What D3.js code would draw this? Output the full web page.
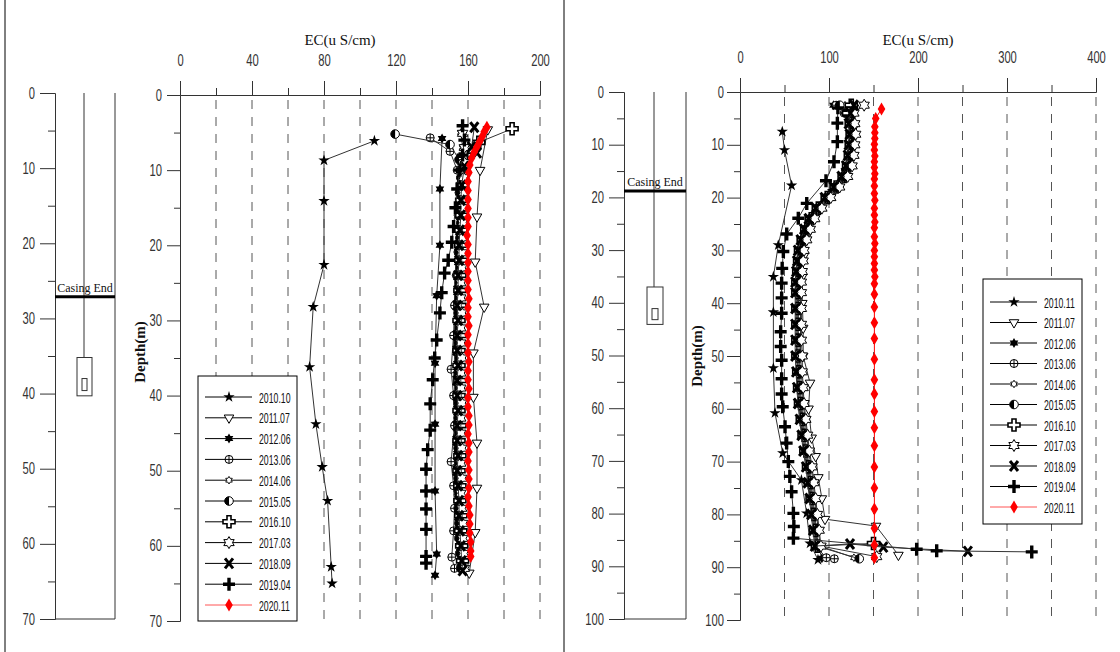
<!DOCTYPE html>
<html><head><meta charset="utf-8">
<script src="https://cdn.jsdelivr.net/npm/d3@7"></script>
<style>body{margin:0;background:#fff}svg{display:block}</style>
</head><body><svg id="c" width="1120" height="652"></svg>
<script>
// ---------------- DATA ----------------
const namesL = ["2010.10","2011.07","2012.06","2013.06","2014.06","2015.05","2016.10","2017.03","2018.09","2019.04","2020.11"];
const namesR = ["2010.11","2011.07","2012.06","2013.06","2014.06","2015.05","2016.10","2017.03","2018.09","2019.04","2020.11"];
const xTicksL = [0,40,80,120,160,200];
const yTicksL = [0,10,20,30,40,50,60,70];
const xTicksR = [0,100,200,300,400];
const yTicksR = [0,10,20,30,40,50,60,70,80,90,100];

// Left well [depth, EC]
const L2010_10 = [[6.1,108],[8.7,80],[14.1,80],[22.6,80],[28.2,74],[36.2,72],[43.8,75.5],[49.5,79],[54,82],[62.8,84],[65,84.5]];
const L2011_07 = [[4.6,171],[10,166.7],[16.2,165],[22.2,164],[28.2,169],[34.3,163],[40.2,163],[46.3,165],[52.3,165],[58.2,164],[63.6,160.7]];
const L2012_06 = [[5.8,145.6],[12.5,144.4],[20,144.4],[26.7,142.6],[35.7,141.7],[43.8,141.7],[52.7,141.7],[61.1,142.6],[63.9,141.7]];
const L2013_06 = [[5.7,139],[7.5,150],[10,154],[13,155],[16,154.5],[20.9,154.4],[24,153.5],[28,152.5],[32,152],[36.5,150.6],[40,152],[44,152.5],[48.8,150.6],[52,152],[55,152.5],[58,152],[61.5,151],[63,152.5]];
const L2014_06 = [[5,156],[7,157],[9,156],[11,156.5],[13,156],[15,155.5],[17,156],[19,155.5],[21,155],[23,155],[25,154.5],[27,154.5],[29,155],[31,154.5],[33,154],[35,154.5],[37,154],[39,154.5],[41,154],[43,154.5],[45,154],[47,154.5],[49,154],[51,154.5],[53,154],[55,154.5],[57,155],[59,154.5],[61,155],[63,155.5]];
const L2015_05 = [[5.2,119.5],[6.6,150],[8.6,155],[11,156],[13,156],[15,155.5],[17,156],[19,155.5],[21,155],[23,155.5],[25,155],[27,155],[29,154.5],[31,155],[33,154.5],[35,155],[37,154.5],[39,155],[41,154.5],[43,154.5],[45,155],[47,154.5],[49,155],[51,154.5],[53,155],[55,154.5],[57,155],[59,155],[61,155.5],[63,156]];
const L2016_10 = [[4.5,184.5],[6.3,166],[8,158.5],[10,157],[12,157],[14,156.5],[16,156.5],[18,156],[20,156],[22,156],[24,155.5],[26,155.5],[28,155.5],[30,155],[32,155.5],[34,155],[36,155],[38,155.5],[40,155],[42,155],[44,155.5],[46,155],[48,155.5],[50,155],[52,155.5],[54,155.5],[56,156],[58,156],[60,156.5],[62,157]];
const L2017_03 = [[5.1,157],[7,158],[9,158],[11,157.5],[13,157.5],[15,157],[17,157],[19,157],[21,156.5],[23,156.5],[25,156],[27,156],[29,156.5],[31,156],[33,156],[35,156.5],[37,156],[39,156],[41,156.5],[43,156],[45,156],[47,156.5],[49,156],[51,156.5],[53,156],[55,156.5],[57,157],[59,157],[61,157.5],[63,158]];
const L2018_09 = [[4.3,163.5],[6.9,162],[7.7,165],[9.5,158],[12,156.5],[14,156],[16,156],[18,155.5],[20,155],[22,155],[24,154.5],[26,154.5],[28,154],[30,154.5],[32,154],[34,154],[36,154.5],[38,154],[40,154],[42,154.5],[44,154],[46,154],[48,154.5],[50,154],[52,154.5],[54,155],[56,155],[58,155.5],[60,156],[62,156.5],[63.3,157]];
const L2019_04 = [[4.1,157],[6,158],[8,157],[10,155.5],[12.5,154],[15,153],[17.5,152],[19.6,151],[22,149],[23.7,147],[26.3,145.4],[29,144.4],[32.6,142.6],[35,141.5],[37.9,140.4],[41.1,139],[44.6,139],[47.2,137.6],[49.8,136.7],[52.7,136.7],[55.1,136.7],[57.8,136.7],[61.4,136.7],[62.3,136.7]];
const depthRedL = [4.3,4.9,5.5,6.2,6.9,7.6,8.4,9.3,10.3,11.5,12.7,13.9,15.1,16.3,17.5,18.7,19.9,21.1,22.3,23.5,24.7,25.9,27.1,28.3,29.5,30.7,31.9,33.1,34.3,35.5,36.7,37.9,39.1,40.3,41.5,42.7,43.9,45.1,46.3,47.5,48.7,49.9,51.1,52.3,53.5,54.7,55.9,57.1,58.3,59.5,60.7,61.4];
const ecRedL = [170.5,169,168,166.5,165,163.5,162,161,160.5,160,160,160,160,160,160,159.5,160,160,160,160,160,160,160.5,160,160,160.5,160,160,160,160.5,160,160,160.5,160,160,160.5,160.5,160,160.5,160.5,160,160.5,160.5,160.5,160,160.5,161,161,161,161.5,161.5,161.5];

// Right well
const R2010_11 = [[7.5,47.5],[11,50],[17.7,58],[29,43],[35,37.5],[41.7,37.5],[52.3,37.5],[60.8,39.3],[68.4,48],[73.5,69],[79.8,74.9],[85.5,78.7],[88.6,87.6]];
const R2011_07 = [[3,128],[7,127],[11,124],[15,119],[19,104],[23,86],[27,76],[31,72],[35,70],[40,70],[44.7,71],[50,71],[55.1,78.7],[60,77],[65.5,80.5],[69,85],[73,88],[77,92],[80.9,95.5],[82.2,152.8],[87.7,178]];
const depthR = [2.5,4,6,8,10,12,14,16,18,20,22,24,26,28,30,32,34,36,38,41,44,47,50,53,56,59,62,65,68,71,74,77,80,83,86];
const ecR_2012_06 = [105,121,126,127,126,125,123,118,109,99,89,81,76,72,69,68,67,66,66,66,65,66,67,67,68,69,71,73,75,78,80,82,84,86,88];
const ecR_2013_06 = [108,117,123,124,123,122,120,115,106,96,86,78,73,69,66,65,64,63,63,63,63,63,64,64,65,66,68,70,72,75,77,79,81,83,85];
const ecR_2014_06 = [118,123,128,129,128,127,125,120,111,101,91,83,78,74,71,70,69,68,68,68,68,68,68,69,70,71,73,75,77,80,82,84,86,88,90];
const ecR_2015_05 = [112,119,124,125,124,123,121,116,107,97,87,79,74,70,67,66,65,64,64,64,64,64,64,65,66,67,69,71,73,76,78,80,82,84,86];
const ecR_2016_10 = [125,122,125,126,125,124,122,117,108,98,88,80,75,71,68,67,66,65,65,65,65,65,65,66,67,68,70,72,74,77,79,81,83,85,87];
const ecR_2017_03 = [139.5,128,129,130,129,128,126,121,112,102,92,84,79,75,72,71,70,69,69,69,69,69,70,70,71,72,74,76,78,81,83,85,87,89,91];
const ecR_2018_09 = [128,124,122,123,122,121,119,114,105,95,85,77,72,68,65,64,63,62,62,62,62,62,62,63,64,65,67,69,71,74,76,78,80,82,84];
const tailR_2012_06 = [[88.3,92]];
const tailR_2013_06 = [[88.2,97],[88.4,106]];
const tailR_2014_06 = [[88.2,128]];
const tailR_2015_05 = [[88.4,134]];
const tailR_2016_10 = [[85.5,150]];
const tailR_2017_03 = [[88,153.6]];
const tailR_2018_09 = [[85.6,123.6],[86.2,161],[87,256]];
const R2019_04 = [[3,110],[5.9,109.4],[9.4,109.4],[13.2,105.6],[16.8,96.6],[21.1,75],[23.9,65.5],[26.9,52.5],[30.2,48.7],[33.4,47.4],[36.2,46.8],[39,46.8],[41.9,46.8],[45.4,45.7],[48.2,45.7],[50.8,46.8],[54.3,46.8],[57.2,46.8],[59.6,48],[63.4,50.6],[66.5,52.4],[70,54.3],[72.8,56],[75.7,58],[79.8,60],[82.3,60.5],[84.5,60],[86.6,198.5],[86.9,221],[87.1,327.8]];
const depthRedR = [3.2,5.0,6.6,7.7,8.8,9.9,11.0,12.1,13.2,14.3,15.5,16.5,17.8,19.2,20.5,22.0,23.3,24.6,25.7,27.4,28.7,30.0,31.2,32.5,33.7,35.0,36.3,38.3,40.7,43.7,46.7,50.6,54.5,57.2,60.5,63.6,67,71,75,79,82.6,85.8,88.2];
const ecRedR = [159,152.5,151.5,151.5,151.5,151,151,151.5,151,151,151.5,151,151,151,151.5,151,151,151.5,151,151,151.5,151,151,151,151,151.5,151,151,151,151,151,151,151,151,151,151,151,151,151,151,151,151,151];

// Well schematics (depths)
const wellL = {casing:27.1, boxTop:35.2, boxBot:40.3, innerTop:38.0, innerBot:39.6, bottom:70};
const wellR = {casing:18.8, boxTop:37.0, boxBot:44.1, innerTop:41.1, innerBot:43.2, bottom:100};

// ---------------- DRAW ----------------
const zip = (d,e) => d.map((v,i)=>[v,e[i]]).filter(p=>p[1]!=null);
const markers = ["star5","triDown","star6f","circCross","star6s","halfCirc","crossOpen","star6o","xThick","plusThick","diamond"];
const seriesL = [L2010_10,L2011_07,L2012_06,L2013_06,L2014_06,L2015_05,L2016_10,L2017_03,L2018_09,L2019_04,zip(depthRedL,ecRedL)];
const seriesR = [R2010_11,R2011_07,
  zip(depthR,ecR_2012_06).concat(tailR_2012_06),
  zip(depthR,ecR_2013_06).concat(tailR_2013_06),
  zip(depthR,ecR_2014_06).concat(tailR_2014_06),
  zip(depthR,ecR_2015_05).concat(tailR_2015_05),
  zip(depthR,ecR_2016_10).concat(tailR_2016_10),
  zip(depthR,ecR_2017_03).concat(tailR_2017_03),
  zip(depthR,ecR_2018_09).concat(tailR_2018_09),
  R2019_04, zip(depthRedR,ecRedR)];

const svg = d3.select("#c");
const SANS = "'Liberation Sans',Arial,sans-serif";
const SERIF = "'Liberation Serif','Times New Roman',serif";

function hexagram(r){
  const p=[];
  for(let i=0;i<12;i++){const a=-Math.PI/2+i*Math.PI/6, rr=i%2===0?r:r*0.58; p.push([(rr*Math.cos(a)).toFixed(2),(rr*Math.sin(a)).toFixed(2)]);}
  return "M"+p.map(q=>q.join(",")).join("L")+"Z";
}
function marker(g,type,x,y){
  const m=g.append("g").attr("transform",`translate(${x},${y})`);
  switch(type){
    case "star5": m.append("path").attr("d",d3.symbol(d3.symbolStar,40)()).attr("fill","#000"); break;
    case "triDown": m.append("path").attr("d",d3.symbol(d3.symbolTriangle,40)()).attr("transform","rotate(180)").attr("fill","#fff").attr("stroke","#000").attr("stroke-width",1); break;
    case "star6f": m.append("path").attr("d",hexagram(5)).attr("fill","#000"); break;
    case "circCross":
      m.append("circle").attr("r",4).attr("fill","#fff").attr("stroke","#000");
      m.append("path").attr("d","M-4,0H4M0,-4V4").attr("stroke","#000"); break;
    case "star6s": m.append("path").attr("d",hexagram(3.8)).attr("fill","#fff").attr("stroke","#000").attr("stroke-width",0.9); break;
    case "halfCirc":
      m.append("circle").attr("r",4.3).attr("fill","#fff").attr("stroke","#000");
      m.append("path").attr("d","M0,-4.3A4.3,4.3 0 0 0 0,4.3Z").attr("fill","#000"); break;
    case "crossOpen":
      m.append("path").attr("d","M-2,-6H2V-2H6V2H2V6H-2V2H-6V-2H-2Z").attr("fill","#fff").attr("stroke","#000").attr("stroke-width",1.6); break;
    case "star6o": m.append("path").attr("d",hexagram(6)).attr("fill","#fff").attr("stroke","#000").attr("stroke-width",1); break;
    case "xThick": m.append("path").attr("d","M-4,-5L4,5M-4,5L4,-5").attr("stroke","#000").attr("stroke-width",3); break;
    case "plusThick": m.append("path").attr("d","M-6,0H6M0,-6.5V6.5").attr("stroke","#000").attr("stroke-width",3.4); break;
    case "diamond": m.append("path").attr("d","M0,-6.5L3.8,0L0,6.5L-3.8,0Z").attr("fill","#f00"); break;
  }
}

function styleAxis(g,size){
  g.selectAll("text").attr("font-family",SANS).attr("font-size",size).attr("fill","#333").classed("narrow",true);
  g.selectAll("line,path").attr("stroke","#333");
}

function panel(c){
  const g=svg.append("g");
  const x=d3.scaleLinear().domain(c.xDom).range([c.x0,c.x1]);
  const y=d3.scaleLinear().domain(c.yDom).range([c.y0,c.y1]);
  g.selectAll("line.grid").data(c.grid).join("line")
    .attr("x1",d=>x(d)).attr("x2",d=>x(d)).attr("y1",c.y0+5).attr("y2",c.y1)
    .attr("stroke","#555").attr("stroke-dasharray","9,8");
  const ax=g.append("g").attr("transform",`translate(0,${c.y0})`)
    .call(d3.axisTop(x).tickValues(c.xTicks).tickSize(14).tickSizeOuter(0).tickPadding(15));
  styleAxis(ax,16);
  const axm=g.append("g").attr("transform",`translate(0,${c.y0})`)
    .call(d3.axisTop(x).tickValues(c.xMinor).tickSize(7).tickSizeOuter(0).tickFormat(""));
  styleAxis(axm,16);
  const ay=g.append("g").attr("transform",`translate(${c.x0},0)`)
    .call(d3.axisLeft(y).tickValues(c.yTicks).tickSize(13).tickSizeOuter(0).tickPadding(c.yPad));
  styleAxis(ay,16);
  const aym=g.append("g").attr("transform",`translate(${c.x0},0)`)
    .call(d3.axisLeft(y).tickValues(c.yMinor).tickSize(6).tickSizeOuter(0).tickFormat(""));
  styleAxis(aym,16);
  g.append("text").attr("x",c.titleX).attr("y",45).attr("text-anchor","middle")
    .attr("font-family",SERIF).attr("font-size",15).attr("fill","#111").text("EC(u S/cm)");
  g.append("text").attr("transform",`translate(${c.depthX},${c.depthY}) rotate(-90)`).attr("text-anchor","middle")
    .attr("font-family",SERIF).attr("font-size",15).attr("font-weight","bold").attr("fill","#111").text("Depth(m)");
  const line=d3.line().x(d=>x(d[1])).y(d=>y(d[0]));
  c.series.forEach((s,i)=>{
    g.append("path").attr("d",line(s)).attr("fill","none")
      .attr("stroke",i===10?"#f00":"#333").attr("stroke-width",1);
    const mg=g.append("g");
    s.forEach(p=>marker(mg,markers[i],x(p[1]),y(p[0])));
  });
  const lg=g.append("g");
  lg.append("rect").attr("x",c.lx).attr("y",c.ly).attr("width",99).attr("height",c.lh)
    .attr("fill","#fff").attr("stroke","#000");
  c.names.forEach((n,i)=>{
    const yy=c.ly0+i*c.lstep;
    lg.append("line").attr("x1",c.lx+7).attr("x2",c.lx+54).attr("y1",yy).attr("y2",yy)
      .attr("stroke",i===10?"#f55":"#000").attr("stroke-width",1);
    marker(lg,markers[i],c.lx+31,yy);
    lg.append("text").attr("x",c.lx+61).attr("y",yy+5.5).attr("font-family",SANS).attr("font-size",15)
      .attr("fill","#111").attr("class","legtxt").text(n);
  });
}

function well(c,w){
  const g=svg.append("g");
  const y=d3.scaleLinear().domain([0,w.bottom]).range([c.y0,c.y1]);
  const ay=g.append("g").attr("transform",`translate(${c.ax},0)`)
    .call(d3.axisLeft(y).tickValues(c.ticks).tickSize(15).tickSizeOuter(0).tickPadding(5));
  styleAxis(ay,16);
  const aym=g.append("g").attr("transform",`translate(${c.ax},0)`)
    .call(d3.axisLeft(y).tickValues(c.minor).tickSize(7).tickSizeOuter(0).tickFormat(""));
  styleAxis(aym,16);
  const k="#333";
  g.append("line").attr("x1",c.rw).attr("x2",c.rw).attr("y1",y(0)).attr("y2",y(w.bottom)).attr("stroke",k);
  g.append("line").attr("x1",c.ax).attr("x2",c.rw).attr("y1",y(w.bottom)).attr("y2",y(w.bottom)).attr("stroke",k);
  g.append("line").attr("x1",c.cx).attr("x2",c.cx).attr("y1",y(0)).attr("y2",y(w.boxTop)).attr("stroke",k);
  g.append("rect").attr("x",c.bx0).attr("width",c.bx1-c.bx0).attr("y",y(w.boxTop)).attr("height",y(w.boxBot)-y(w.boxTop))
    .attr("fill","none").attr("stroke",k);
  g.append("rect").attr("x",c.ix0).attr("width",c.ix1-c.ix0).attr("y",y(w.innerTop)).attr("height",y(w.innerBot)-y(w.innerTop))
    .attr("fill","none").attr("stroke",k);
  g.append("line").attr("x1",c.ax).attr("x2",c.rw).attr("y1",y(w.casing)).attr("y2",y(w.casing)).attr("stroke","#000").attr("stroke-width",3);
  g.append("text").attr("x",(c.ax+c.rw)/2).attr("y",y(w.casing)-5).attr("text-anchor","middle")
    .attr("font-family",SERIF).attr("font-size",12).attr("fill","#111").text("Casing End");
}

svg.append("line").attr("x1",5).attr("x2",5).attr("y1",0).attr("y2",652).attr("stroke","#000");
svg.append("line").attr("x1",564).attr("x2",564).attr("y1",0).attr("y2",652).attr("stroke","#000");

well({y0:93,y1:619,ax:55,rw:115,cx:84,bx0:77,bx1:92,ix0:82,ix1:87,ticks:yTicksL,minor:[5,15,25,35,45,55,65]},wellL);
well({y0:92,y1:619,ax:624,rw:686,cx:654,bx0:647,bx1:663,ix0:652,ix1:658,ticks:yTicksR,minor:[5,15,25,35,45,55,65,75,85,95]},wellR);

panel({x0:180,x1:540,y0:95,y1:621,xDom:[0,200],yDom:[0,70],xTicks:xTicksL,xMinor:[20,60,100,140,180],
  yTicks:yTicksL,yMinor:[5,15,25,35,45,55,65],grid:[20,40,60,80,100,120,140,160,180,200],yPad:5,
  titleX:340,depthX:145,depthY:352,series:seriesL,names:namesL,lx:198,ly:376,lh:245,ly0:397,lstep:20.8});
panel({x0:740,x1:1096,y0:92,y1:620,xDom:[0,400],yDom:[0,100],xTicks:xTicksR,xMinor:[50,150,250,350],
  yTicks:yTicksR,yMinor:[5,15,25,35,45,55,65,75,85,95],grid:[50,100,150,200,250,300,350,400],yPad:3,
  titleX:918,depthX:702,depthY:356,series:seriesR,names:namesR,lx:983,ly:279,lh:245,ly0:302,lstep:20.5});

// condensed look (narrow sans as in the original)
function squeeze(sel,f){
  sel.each(function(){
    const t=this.textContent; if(!t) return;
    const l=this.getComputedTextLength();
    d3.select(this).attr("textLength",(l*f).toFixed(1)).attr("lengthAdjust","spacingAndGlyphs");
  });
}
squeeze(svg.selectAll("text.narrow"),0.7);
squeeze(svg.selectAll("text.legtxt"),0.58);
</script></body></html>
